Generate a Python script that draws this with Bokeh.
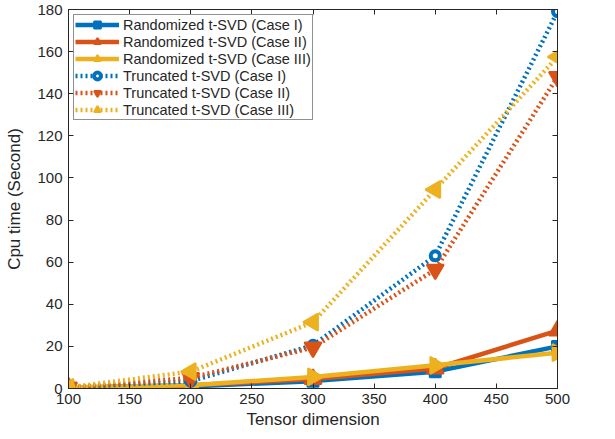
import math
from bokeh.plotting import figure
from bokeh.models import Range1d, LinearAxis, FixedTicker, Legend
from bokeh.embed import file_html
from bokeh.resources import INLINE

dims = [100, 200, 300, 400, 500]
rand_case1 = [0.5, 1.0, 3.5, 8.0, 20.0]
rand_case2 = [0.5, 1.5, 4.5, 9.5, 27.5]
rand_case3 = [0.5, 1.5, 5.5, 11.0, 17.0]
trunc_case1 = [0.5, 3.5, 20.5, 63.0, 179.0]
trunc_case2 = [0.5, 5.0, 19.5, 56.5, 148.0]
trunc_case3 = [0.5, 8.0, 31.5, 94.5, 157.5]

x_ticks = [100, 150, 200, 250, 300, 350, 400, 450, 500]
y_ticks = [0, 20, 40, 60, 80, 100, 120, 140, 160, 180]

BLUE = "#0072BD"
ORANGE = "#D95319"
YELLOW = "#EDB120"
FONT = "Liberation Sans"
AX = "#262626"

p = figure(width=600, height=431, output_backend="svg", toolbar_location=None,
           x_range=Range1d(100, 500), y_range=Range1d(0, 180),
           min_border_left=68, min_border_right=43, min_border_top=9, min_border_bottom=8)
p.xgrid.visible = False
p.ygrid.visible = False
p.outline_line_color = AX
p.outline_line_width = 1

p.xaxis.ticker = FixedTicker(ticks=x_ticks)
p.yaxis.ticker = FixedTicker(ticks=y_ticks)
p.xaxis.axis_label = "Tensor dimension"
p.yaxis.axis_label = "Cpu time (Second)"
for ax in [p.xaxis[0], p.yaxis[0]]:
    ax.major_tick_in = 5
    ax.major_tick_out = 0
    ax.minor_tick_line_color = None
    ax.axis_line_color = AX
    ax.major_tick_line_color = AX
    ax.major_label_text_font = FONT
    ax.major_label_text_font_size = "15px"
    ax.major_label_text_color = AX
    ax.axis_label_text_font = FONT
    ax.axis_label_text_font_size = "17px"
    ax.axis_label_text_font_style = "normal"
    ax.axis_label_text_color = AX
p.xaxis.axis_label_standoff = 3
p.yaxis.axis_label_standoff = 10
p.xaxis.major_label_standoff = 5
p.yaxis.major_label_standoff = 6

top = LinearAxis(ticker=FixedTicker(ticks=x_ticks), major_label_text_font_size="0px",
                 major_tick_in=5, major_tick_out=0, minor_tick_line_color=None,
                 axis_line_color=AX, major_tick_line_color=AX)
right = LinearAxis(ticker=FixedTicker(ticks=y_ticks), major_label_text_font_size="0px",
                   major_tick_in=5, major_tick_out=0, minor_tick_line_color=None,
                   axis_line_color=AX, major_tick_line_color=AX)
p.add_layout(top, "above")
p.add_layout(right, "right")

items = []
def add(ys, color, dash, marker, angle, label, fill, size, lw, mlw):
    r1 = p.line(dims, ys, line_color=color, line_width=lw, line_dash=dash)
    r2 = p.scatter(dims, ys, marker=marker, angle=angle, size=size, line_color=color,
                   fill_color=fill, line_width=mlw)
    items.append((label, [r1, r2]))

add(rand_case1, BLUE, "solid", "square", 0, "Randomized t-SVD (Case I)", BLUE, 11, 4.5, 2)
add(rand_case2, ORANGE, "solid", "triangle", 0, "Randomized t-SVD (Case II)", ORANGE, 17, 4.5, 2)
add(rand_case3, YELLOW, "solid", "triangle", -math.pi / 2, "Randomized t-SVD (Case III)", YELLOW, 17, 4.5, 2)
add(trunc_case1, BLUE, "2 3", "circle", 0, "Truncated t-SVD (Case I)", "white", 9, 4.5, 4)
add(trunc_case2, ORANGE, "2 3", "inverted_triangle", 0, "Truncated t-SVD (Case II)", ORANGE, 17, 4.5, 2)
add(trunc_case3, YELLOW, "2 3", "triangle", math.pi / 2, "Truncated t-SVD (Case III)", YELLOW, 17, 4.5, 2)

legend = Legend(items=items, location="top_left")
legend.border_line_color = "#222222"
legend.border_line_width = 1
legend.background_fill_alpha = 1
legend.label_text_font = FONT
legend.label_text_font_size = "14.5px"
legend.label_text_color = AX
legend.glyph_width = 44
legend.glyph_height = 17
legend.label_height = 17
legend.label_standoff = 4
legend.spacing = 0
legend.padding = 1
legend.margin = 5
p.add_layout(legend)

open("out.html", "w").write(file_html(p, INLINE))
